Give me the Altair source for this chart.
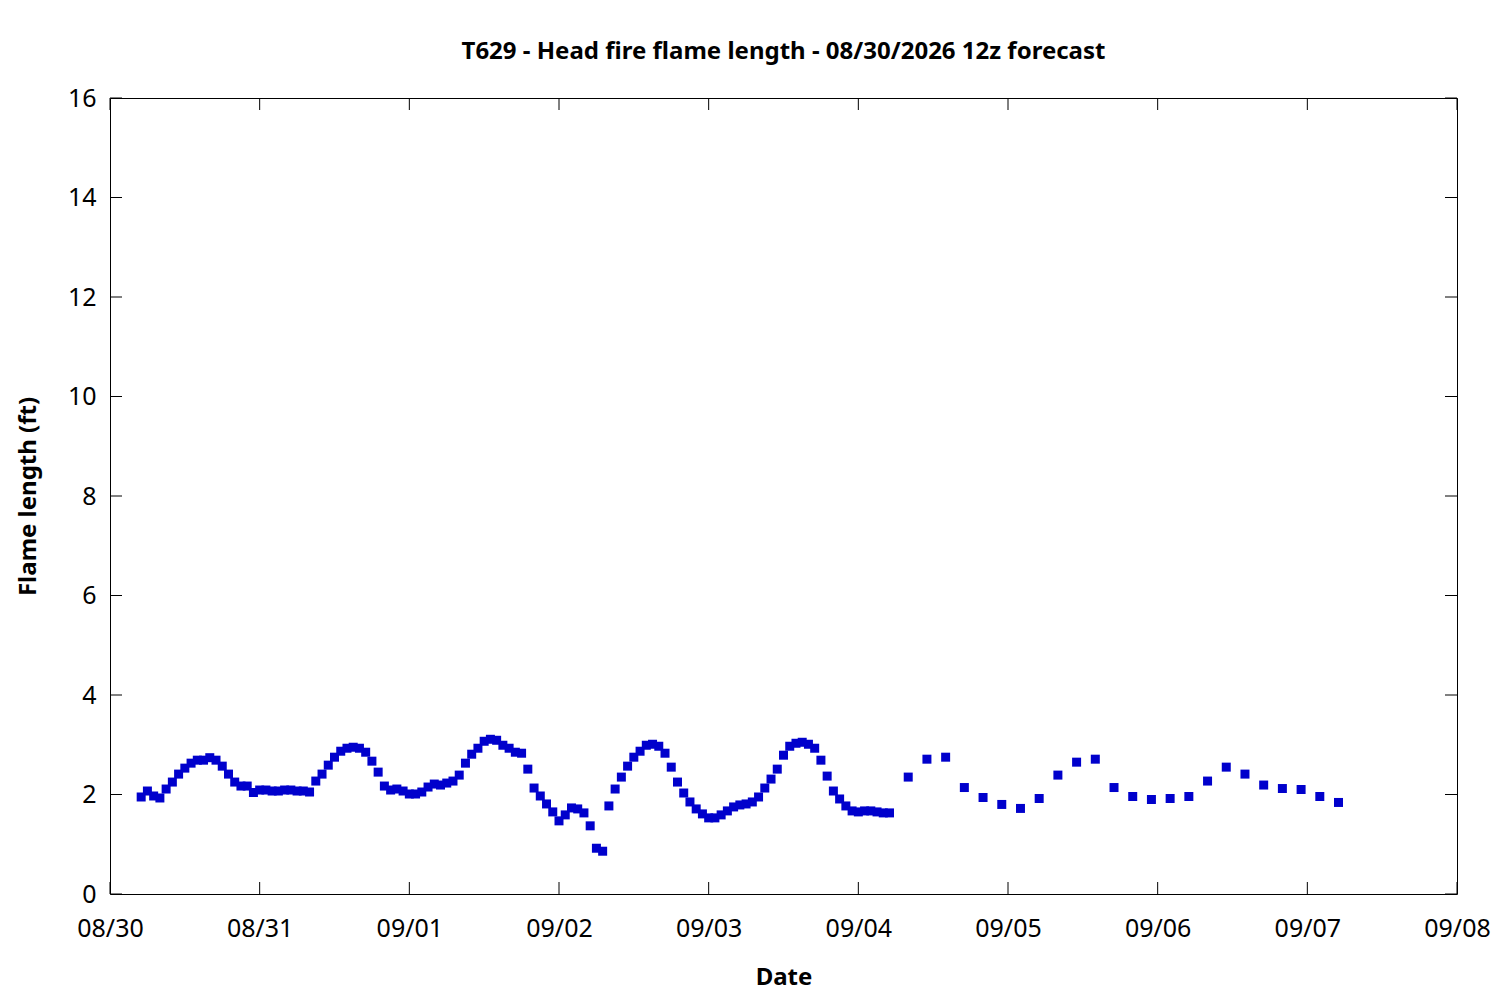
import altair as alt
import pandas as pd

# ---- data ----
hourly_start = "2026-08-30T05:00:00Z"
hourly_values = [
    1.95, 2.07, 1.97, 1.93, 2.11, 2.25, 2.41, 2.53, 2.63, 2.69,
    2.69, 2.74, 2.69, 2.57, 2.41, 2.25, 2.17, 2.17, 2.04, 2.09,
    2.09, 2.07, 2.07, 2.09, 2.09, 2.07, 2.07, 2.05, 2.27, 2.41,
    2.59, 2.75, 2.87, 2.93, 2.95, 2.93, 2.85, 2.67, 2.45, 2.17,
    2.09, 2.11, 2.07, 2.01, 2.01, 2.05, 2.15, 2.21, 2.19, 2.23,
    2.27, 2.39, 2.63, 2.81, 2.93, 3.07, 3.11, 3.09, 2.99, 2.93,
    2.85, 2.83, 2.51, 2.13, 1.97, 1.81, 1.65, 1.47, 1.59, 1.73,
    1.71, 1.63, 1.37, 0.92, 0.86, 1.77, 2.11, 2.35, 2.57, 2.75,
    2.87, 2.99, 3.01, 2.97, 2.83, 2.55, 2.25, 2.03, 1.85, 1.71,
    1.61, 1.53, 1.53, 1.59, 1.67, 1.75, 1.79, 1.81, 1.85, 1.95,
    2.13, 2.31, 2.51, 2.79, 2.97, 3.03, 3.05, 3.01, 2.93, 2.69,
    2.37, 2.07, 1.91, 1.77, 1.67, 1.65, 1.67, 1.67, 1.65, 1.63,
    1.63,
]
three_hourly_start = "2026-09-04T08:00:00Z"
three_hourly_values = [
    2.35, 2.71, 2.75, 2.14, 1.94, 1.80, 1.72, 1.92, 2.39, 2.65,
    2.71, 2.14, 1.96, 1.90, 1.92, 1.96, 2.27, 2.55, 2.41, 2.19,
    2.12, 2.10, 1.96, 1.84,
]
day_ticks = ["2026-08-30", "2026-08-31", "2026-09-01", "2026-09-02", "2026-09-03",
             "2026-09-04", "2026-09-05", "2026-09-06", "2026-09-07", "2026-09-08"]
y_ticks = [0, 2, 4, 6, 8, 10, 12, 14, 16]

title_text = "T629 - Head fire flame length - 08/30/2026 12z forecast"
x_title = "Date"
y_title = "Flame length (ft)"

# ---- build tables ----
t_h = pd.date_range(hourly_start, periods=len(hourly_values), freq="h")
t_3 = pd.date_range(three_hourly_start, periods=len(three_hourly_values), freq="3h")
times = [t.strftime("%Y-%m-%dT%H:%M:%SZ") for t in list(t_h) + list(t_3)]
df = pd.DataFrame({"t": times, "v": hourly_values + three_hourly_values})

xtick_df = pd.DataFrame({"t": [d + "T00:00:00Z" for d in day_ticks]})
ytick_df = pd.DataFrame({"v": y_ticks})

W, H = 1347, 796
TK = 12


def dt(s):
    y, m, d = (int(p) for p in s.split("-"))
    return alt.DateTime(year=y, month=m, date=d, utc=True)


xs = alt.Scale(type="utc", domain=[dt(day_ticks[0]), dt(day_ticks[-1])])
ys = alt.Scale(domain=[y_ticks[0], y_ticks[-1]], nice=False, zero=False)

points = alt.Chart(df).mark_square(size=81, color="#0000CC", opacity=1, filled=True).encode(
    x=alt.X("t:T", scale=xs,
            axis=alt.Axis(values=[dt(d) for d in day_ticks], format="%m/%d", title=x_title,
                          labelPadding=34, labelBaseline="middle", labelFlush=False,
                          labelOverlap=False, titleY=83, titleBaseline="middle")),
    y=alt.Y("v:Q", scale=ys,
            axis=alt.Axis(values=y_ticks, title=y_title, labelPadding=14,
                          labelBaseline="middle", labelFlush=False, labelOverlap=False,
                          titleX=-82, titleBaseline="middle", titleAngle=-90)),
)

bottom_ticks = alt.Chart(xtick_df).mark_rule(color="black", strokeWidth=1).encode(
    x=alt.X("t:T", scale=xs), y=alt.value(H), y2=alt.value(H - TK))
top_ticks = alt.Chart(xtick_df).mark_rule(color="black", strokeWidth=1).encode(
    x=alt.X("t:T", scale=xs), y=alt.value(0), y2=alt.value(TK))
left_ticks = alt.Chart(ytick_df).mark_rule(color="black", strokeWidth=1).encode(
    y=alt.Y("v:Q", scale=ys), x=alt.value(0), x2=alt.value(TK))
right_ticks = alt.Chart(ytick_df).mark_rule(color="black", strokeWidth=1).encode(
    y=alt.Y("v:Q", scale=ys), x=alt.value(W - TK), x2=alt.value(W))

chart = alt.layer(points, bottom_ticks, top_ticks, left_ticks, right_ticks).properties(
    width=W, height=H,
    autosize=alt.AutoSizeParams(type="none"),
    padding={"left": 102, "top": 90, "right": 35, "bottom": 97},
    background="white",
    title=alt.TitleParams(title_text, fontSize=24, fontWeight="bold", anchor="middle",
                          frame="group", offset=22, color="black", font="Noto Sans"),
).configure_view(
    stroke="black", strokeWidth=1
).configure_axis(
    domain=False, ticks=False, grid=False,
    labelFont="Noto Sans", labelFontSize=25, labelColor="black",
    titleFont="Noto Sans", titleFontSize=24, titleFontWeight="bold", titleColor="black",
)

chart.save("out.html", embed_options={"renderer": "svg", "actions": False})
